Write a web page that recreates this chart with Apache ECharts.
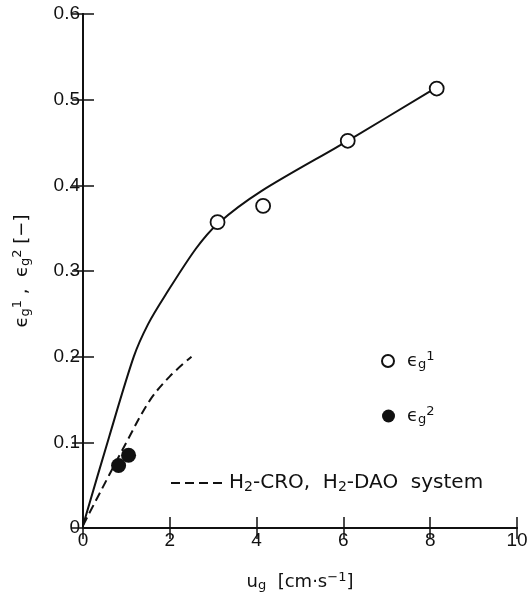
<!DOCTYPE html>
<html>
<head>
<meta charset="utf-8">
<script src="https://cdn.jsdelivr.net/npm/echarts@6/dist/echarts.min.js"></script>
<style>
html,body{margin:0;padding:0;background:#fff;}
#chart{width:527px;height:599px;}
</style>
</head>
<body>
<div id="chart"></div>
<script>
// ---- data ----
var xTicks = [0, 2, 4, 6, 8, 10];
var yTicks = [0, 0.1, 0.2, 0.3, 0.4, 0.5, 0.6];
// open circles: eps_g^1
var eps1Points = [[3.1, 0.357], [4.15, 0.376], [6.1, 0.452], [8.15, 0.513]];
// filled circles: eps_g^2
var eps2Points = [[0.82, 0.073], [1.05, 0.085]];
// solid correlation curve
var solidCurve = [[0, 0.003], [0.6, 0.106], [1.17, 0.2], [1.5, 0.238], [1.9, 0.272], [2.6, 0.326], [3.1, 0.355], [4.1, 0.393], [6.1, 0.452], [8.1, 0.513]];
// dashed curve: H2-CRO, H2-DAO system
var dashedCurve = [[0, 0.003], [1.0, 0.1], [1.54, 0.149], [2.0, 0.177], [2.5, 0.2]];

var FONT = 'DejaVu Sans';
var TICKFONT = 'Liberation Sans';
var ink = '#111';

var richBase = {
  b: {fontFamily: FONT, fontSize: 18, color: ink, lineHeight: 26},
  sub: {fontFamily: FONT, fontSize: 13, color: ink, verticalAlign: 'bottom', lineHeight: 26, padding: [0, 0, 3, 0]},
  sup: {fontFamily: FONT, fontSize: 13, color: ink, verticalAlign: 'top', lineHeight: 26, padding: [2, 0, 0, 0]}
};

var chart = echarts.init(document.getElementById('chart'), null, {renderer: 'canvas'});

var legendNames = {
  'eps1': '{b|ϵ}{sub|g}{sup|1}',
  'eps2': '{b|ϵ}{sub|g}{sup|2}',
  'dashed': '{t|H}{ts|2}{t|-CRO,  H}{ts|2}{t|-DAO  system}'
};

function legendOpt(name, left, top, w, h, pad, extra) {
  var o = {
    data: [name],
    left: left, top: top, padding: 0,
    itemWidth: w, itemHeight: h,
    selectedMode: false,
    formatter: function (n) { return legendNames[n]; },
    textStyle: {
      padding: pad,
      rich: {
        b: richBase.b, sub: richBase.sub, sup: richBase.sup,
        t: {fontFamily: FONT, fontSize: 20, color: ink, lineHeight: 26},
        ts: {fontFamily: FONT, fontSize: 14, color: ink, verticalAlign: 'bottom', lineHeight: 26, padding: [0, 0, 2, 0]}
      }
    }
  };
  return Object.assign(o, extra || {});
}

var axisCommon = {
  axisLine: {show: true, lineStyle: {color: ink, width: 2}},
  axisTick: {show: true, inside: true, length: 11, lineStyle: {color: ink, width: 1.5}},
  splitLine: {show: false}
};

var option = {
  backgroundColor: '#fff',
  animation: false,
  grid: {left: 83, right: 10, top: 14, bottom: 71, containLabel: false, outerBoundsMode: 'none'},
  legend: [
    legendOpt('eps1', 381, 348, 12, 12, [0, 0, 0, 8]),
    legendOpt('eps2', 382, 403, 13, 13, [0, 0, 0, 7]),
    legendOpt('dashed', 170, 473, 52, 10, [0, 0, 0, 1], {itemStyle: {opacity: 0}})
  ],
  xAxis: [
    Object.assign({
      type: 'value', min: xTicks[0], max: xTicks[xTicks.length - 1], interval: 2,
      position: 'bottom',
      name: '{b|u}{sub|g}{b|  [cm·s}{sup|−1}{b|]}',
      nameLocation: 'middle', nameGap: 41,
      nameTextStyle: {rich: richBase},
      axisLabel: {fontFamily: TICKFONT, fontSize: 19, color: ink, margin: 3}
    }, axisCommon),
    Object.assign({
      type: 'value', min: xTicks[0], max: xTicks[xTicks.length - 1], interval: 2,
      position: 'top', axisLabel: {show: false}
    }, axisCommon)
  ],
  yAxis: [
    Object.assign({
      type: 'value', min: yTicks[0], max: yTicks[yTicks.length - 1], interval: 0.1,
      position: 'left',
      name: '{b|ϵ}{sub|g}{sup|1}{b| ,  ϵ}{sub|g}{sup|2}{b| [−]}',
      nameLocation: 'middle', nameGap: 48, nameRotate: 90,
      nameTextStyle: {rich: richBase},
      axisLabel: {fontFamily: TICKFONT, fontSize: 19, color: ink, margin: 3}
    }, axisCommon),
    Object.assign({
      type: 'value', min: yTicks[0], max: yTicks[yTicks.length - 1], interval: 0.1,
      position: 'right', axisLabel: {show: false}
    }, axisCommon)
  ],
  series: [
    {
      name: 'solid', type: 'line', data: solidCurve, smooth: 0.3,
      symbol: 'none', lineStyle: {color: ink, width: 2}, z: 2
    },
    {
      name: 'dashed', type: 'line', data: dashedCurve, smooth: 0.35,
      symbol: 'none', lineStyle: {color: ink, width: 2, type: [9, 5]},
      itemStyle: {color: ink}, z: 2
    },
    {
      name: 'eps1', type: 'scatter', data: eps1Points, symbol: 'circle', symbolSize: 14,
      itemStyle: {color: '#fff', borderColor: ink, borderWidth: 1.8, opacity: 1}, z: 5
    },
    {
      name: 'eps2', type: 'scatter', data: eps2Points, symbol: 'circle', symbolSize: 15,
      itemStyle: {color: ink, borderColor: ink, borderWidth: 0, opacity: 1}, z: 5
    }
  ]
};
chart.setOption(option);
</script>
</body>
</html>
